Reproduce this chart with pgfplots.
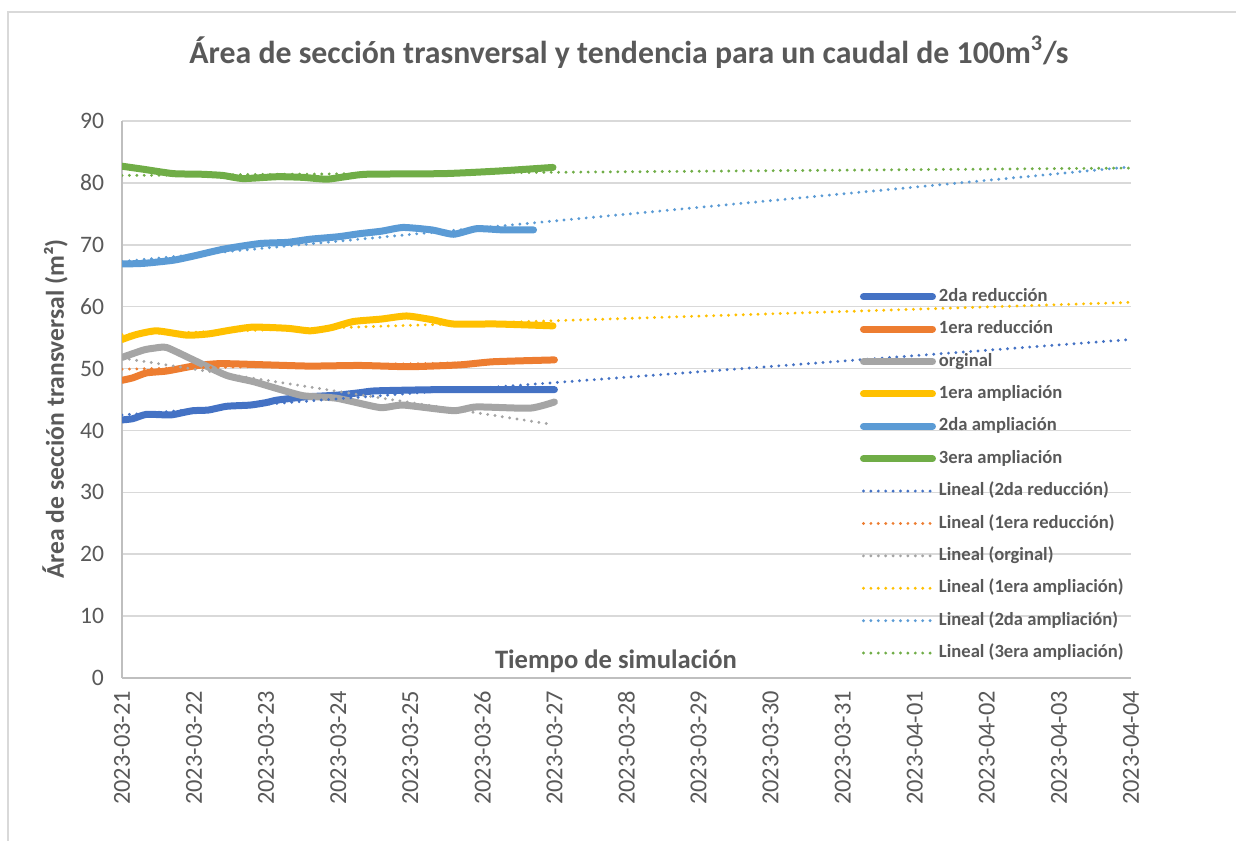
\documentclass[border=0pt]{standalone}
\usepackage{fontspec}
\setmainfont{Carlito}
\usepackage{pgfplots}
\pgfplotsset{compat=1.18}
\definecolor{cDB}{HTML}{4472C4}
\definecolor{cOR}{HTML}{ED7D31}
\definecolor{cGR}{HTML}{A5A5A5}
\definecolor{cYE}{HTML}{FFC000}
\definecolor{cLB}{HTML}{5B9BD5}
\definecolor{cGN}{HTML}{70AD47}
\definecolor{txt}{HTML}{595959}
\definecolor{grd}{HTML}{D9D9D9}
\definecolor{axl}{HTML}{BFBFBF}
\begin{document}
\begin{tikzpicture}
\useasboundingbox (-61bp,-81.5bp) rectangle (557bp,339bp);
\draw[grd, line width=0.75bp] (-57bp,-90bp) -- (-57bp,333bp) -- (570bp,333bp);
\begin{axis}[
  at={(0,0)}, anchor=south west,
  scale only axis, width=504.5bp, height=278.5bp,
  xmin=0, xmax=14, ymin=0, ymax=90,
  xtick={0,1,...,14},
  xticklabels={2023-03-21,2023-03-22,2023-03-23,2023-03-24,2023-03-25,2023-03-26,2023-03-27,2023-03-28,2023-03-29,2023-03-30,2023-03-31,2023-04-01,2023-04-02,2023-04-03,2023-04-04},
  ytick={0,10,...,90},
  axis x line*=bottom, axis y line*=left,
  axis line style={draw=axl, line width=0.75bp, -},
  major tick length=0pt,
  ymajorgrids, grid style={draw=grd, line width=0.75bp},
  /pgf/number format/assume math mode=true,
  x tick label style={rotate=90, anchor=east, xshift=-3bp, font=\fontsize{12.2bp}{14bp}\selectfont, text=txt},
  y tick label style={xshift=-5.5bp, font=\fontsize{11.8bp}{14bp}\selectfont, text=txt},
  legend cell align=left,
  legend style={at={(0.7314,0.7049)}, anchor=north west, draw=none, fill=none,
    inner sep=0pt, outer sep=0pt, row sep=4.9bp,
    font=\bfseries\fontsize{9.3bp}{11bp}\selectfont, text=txt,
    nodes={inner sep=1.5bp, text height=6.5bp, text depth=1.8bp}},
  legend image code/.code={\draw[#1] (0bp,0bp) -- (34.5bp,0bp);},
  solid/.style={line width=3.5bp, line cap=round, line join=round, smooth, tension=0.35},
  trend/.style={line width=1.6bp, line cap=round, dash pattern=on 0bp off 3.7bp},
]
% solid series
\addplot[solid, cDB] coordinates {(0,41.7)(0.15,41.9)(0.34,42.6)(0.67,42.5)(0.85,42.9)(0.99,43.2)(1.2,43.3)(1.45,43.9)(1.78,44.1)(2.0,44.5)(2.15,44.9)(2.52,45.4)(2.98,45.7)(3.3,46.1)(3.53,46.4)(4.46,46.6)(6.0,46.6)};
\addlegendentry{2da reducción}
\addplot[solid, cOR] coordinates {(0,48.1)(0.15,48.5)(0.34,49.3)(0.62,49.6)(0.99,50.4)(1.36,50.8)(2.0,50.6)(2.61,50.4)(3.3,50.5)(3.99,50.3)(4.69,50.6)(5.15,51.1)(6.0,51.4)};
\addlegendentry{1era reducción}
\addplot[solid, cGR] coordinates {(0,51.8)(0.3,53.0)(0.45,53.3)(0.62,53.4)(0.99,51.4)(1.45,48.9)(1.82,47.9)(2.2,46.6)(2.52,45.6)(2.98,45.2)(3.58,43.7)(3.9,44.1)(4.6,43.2)(4.92,43.8)(5.66,43.6)(6.0,44.6)};
\addlegendentry{orginal}
\addplot[solid, cYE] coordinates {(0,54.7)(0.2,55.5)(0.48,56.1)(0.9,55.4)(1.2,55.6)(1.5,56.2)(1.82,56.7)(2.3,56.5)(2.61,56.1)(2.9,56.6)(3.21,57.6)(3.6,58.0)(3.95,58.5)(4.3,57.9)(4.6,57.2)(5.2,57.2)(5.98,56.9)};
\addlegendentry{1era ampliación}
\addplot[solid, cLB] coordinates {(0,66.9)(0.3,67.0)(0.71,67.5)(1.0,68.2)(1.41,69.3)(1.91,70.2)(2.3,70.4)(2.61,70.9)(3.0,71.3)(3.3,71.8)(3.6,72.2)(3.9,72.8)(4.3,72.4)(4.6,71.7)(4.92,72.6)(5.3,72.4)(5.71,72.4)};
\addlegendentry{2da ampliación}
\addplot[solid, cGN] coordinates {(0,82.7)(0.3,82.2)(0.71,81.5)(1.1,81.4)(1.4,81.2)(1.68,80.7)(2.15,81.0)(2.5,80.9)(2.84,80.6)(3.1,81.0)(3.4,81.4)(4.46,81.5)(5.2,81.9)(5.98,82.5)};
\addlegendentry{3era ampliación}
% trends
\addplot[trend, cDB] coordinates {(0,42.5)(14,54.7)};
\addlegendentry{Lineal (2da reducción)}
\addplot[trend, cOR] coordinates {(0,49.9)(6,51.2)};
\addlegendentry{Lineal (1era reducción)}
\addplot[trend, cGR] coordinates {(0,51.7)(5.9,41.1)};
\addlegendentry{Lineal (orginal)}
\addplot[trend, cYE] coordinates {(0,55.5)(14,60.7)};
\addlegendentry{Lineal (1era ampliación)}
\addplot[trend, cLB] coordinates {(0,67.3)(14,82.6)};
\addlegendentry{Lineal (2da ampliación)}
\addplot[trend, cGN] coordinates {(0,81.2)(14,82.4)};
\addlegendentry{Lineal (3era ampliación)}
\end{axis}
\node[text=txt, font=\bfseries\fontsize{15.9bp}{18bp}\selectfont] at (253.5bp,313bp) {Área de sección trasnversal y tendencia para un caudal de 100m\textsuperscript{3}/s};
\node[text=txt, font=\bfseries\fontsize{13.3bp}{16bp}\selectfont] at (247bp,8.5bp) {Tiempo de simulación};
\node[text=txt, rotate=90, font=\bfseries\fontsize{12.8bp}{15bp}\selectfont] at (-33.5bp,134.5bp) {Área de sección transversal (m²)};
\end{tikzpicture}
\end{document}
